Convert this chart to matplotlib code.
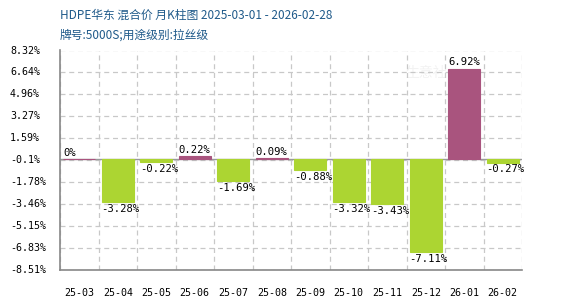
import numpy as np
import matplotlib.pyplot as plt
import matplotlib.transforms as mtransforms

plt.rcParams['font.family'] = ['Noto Sans CJK SC', 'DejaVu Sans']

# Data
months = ['25-03', '25-04', '25-05', '25-06', '25-07', '25-08',
          '25-09', '25-10', '25-11', '25-12', '26-01', '26-02']
changes = [0.0, -3.28, -0.22, 0.22, -1.69, 0.09,
           -0.88, -3.32, -3.43, -7.11, 6.92, -0.27]
yticks = [8.32, 6.64, 4.96, 3.27, 1.59, -0.1, -1.78, -3.46, -5.15, -6.83, -8.51]

up_color = '#a9547e'
down_color = '#acd532'
grid_color = '#c8c8c8'
mono = 'DejaVu Sans Mono'
fs = 7.2

fig = plt.figure(figsize=(5.7, 3.0), dpi=100)
ax = fig.add_axes([60 / 570, 30 / 300, 462 / 570, 219.5 / 300])

x = np.arange(len(months))
colors = [down_color if v < 0 else up_color for v in changes]
ax.bar(x, changes, width=0.84, color=colors, edgecolor=colors, linewidth=0.8, zorder=3)

# zero line
ax.axhline(0, color='#999999', linewidth=1, zorder=2)

# value labels
for xi, v in zip(x, changes):
    left = xi - 0.42
    if v < 0:
        ax.text(left, v - 0.15, f'{v:g}%', ha='left', va='top', fontsize=fs + 0.4,
                family=mono, zorder=4)
    else:
        ax.text(left, v + 0.1, f'{v:g}%', ha='left', va='bottom', fontsize=fs + 0.4,
                family=mono, zorder=4)

ax.set_xlim(-0.5, len(months) - 0.5)
ax.set_ylim(yticks[-1], yticks[0])
ax.set_yticks(yticks)
ax.set_yticklabels([])
ax.set_xticks(x)
ax.set_xticklabels(months, family=mono, fontsize=fs)
ax.tick_params(length=0, pad=13, axis='x')
ax.tick_params(length=0, axis='y')

# y labels, left aligned near the figure edge
trans = mtransforms.blended_transform_factory(fig.transFigure, ax.transData)
for t in yticks:
    ax.text(10 / 570, t, f'{t:g}%', transform=trans, ha='left', va='center',
            fontsize=fs, family=mono, clip_on=False)

# grid
for b in np.arange(-0.5, len(months), 1.0):
    ax.axvline(b, color=grid_color, linestyle=(0, (4, 3)), linewidth=0.9, zorder=1)
for t in yticks:
    ax.axhline(t, color=grid_color, linestyle=(0, (4, 3)), linewidth=0.9, zorder=1)

for s in ['top', 'right']:
    ax.spines[s].set_visible(False)
for s in ['left', 'bottom']:
    ax.spines[s].set_color('#888888')
    ax.spines[s].set_linewidth(1.2)
    ax.spines[s].set_zorder(5)

# faint watermark
ax.text(9.0, 6.6, '生意社', color='#f2f2f2', fontsize=10, ha='center', va='center', zorder=0)

fig.text(60 / 570, 1 - 15 / 300, 'HDPE华东 混合价 月K柱图 2025-03-01 - 2026-02-28',
         color='#1f5a8a', fontsize=8.5, va='center')
fig.text(60 / 570, 1 - 35 / 300, '牌号:5000S;用途级别:拉丝级',
         color='#1f5a8a', fontsize=8.5, va='center')

fig.savefig('out.png', dpi=100, facecolor='white')
